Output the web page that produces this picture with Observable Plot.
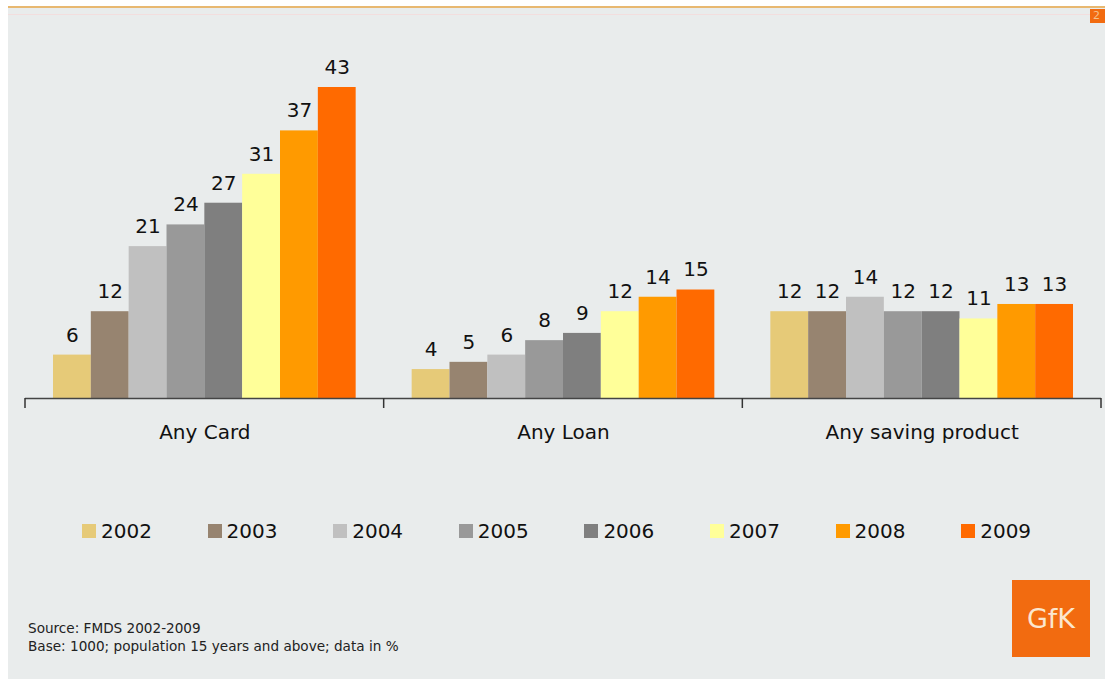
<!DOCTYPE html>
<html>
<head>
<meta charset="utf-8">
<script src="https://cdn.jsdelivr.net/npm/d3@7"></script>
<script src="https://cdn.jsdelivr.net/npm/@observablehq/plot@0.6"></script>
<style>
  html, body { margin: 0; padding: 0; background: #ffffff; }
  body { width: 1105px; height: 679px; position: relative; overflow: hidden; font-family: "DejaVu Sans", Verdana, sans-serif; }
  #panel { position: absolute; left: 8px; top: 8px; width: 1097px; height: 671px; background: #e9ecec; }
  #topline { position: absolute; left: 8px; top: 6px; width: 1097px; height: 2px; background: #e8b870; }
  #pinkline { position: absolute; left: 8px; top: 14px; width: 1097px; height: 1px; background: #f3dede; }
  #pagebox { position: absolute; left: 1090px; top: 9px; width: 15px; height: 14px; background: #f26b10; color: #f5c08a; font-size: 11px; line-height: 14px; padding-left: 3px; box-sizing: border-box; }
  #chart { position: absolute; left: 0; top: 0; }
  #legend { position: absolute; left: 0; top: 517px; width: 1105px; height: 28px; }
  .item { position: absolute; top: 0; height: 28px; display: flex; align-items: center; font-size: 20px; color: #111; }
  .sw { width: 14px; height: 14px; margin-right: 5px; }
  #source { position: absolute; left: 28px; top: 619px; font-size: 13.6px; line-height: 18px; color: #222; }
  #logo { position: absolute; left: 1012px; top: 580px; width: 78px; height: 77px; background: #f26b10; color: #fbe6cf; font-size: 27px; display: flex; align-items: center; justify-content: center; letter-spacing: 0px; }
</style>
</head>
<body>
<div id="panel"></div>
<div id="topline"></div>
<div id="pinkline"></div>
<div id="pagebox">2</div>
<div id="chart"></div>
<div id="legend"></div>
<div id="source">Source: FMDS 2002-2009<br>Base: 1000; population 15 years and above; data in %</div>
<div id="logo">GfK</div>
<script>
const categories = ["Any Card", "Any Loan", "Any saving product"];
const years = ["2002", "2003", "2004", "2005", "2006", "2007", "2008", "2009"];
const colors = ["#e6ca78", "#978470", "#c0c0c0", "#999999", "#7f7f7f", "#ffff99", "#ff9a00", "#ff6a00"];
const anyCard = [6, 12, 21, 24, 27, 31, 37, 43];
const anyLoan = [4, 5, 6, 8, 9, 12, 14, 15];
const anySaving = [12, 12, 14, 12, 12, 11, 13, 13];

const series = [anyCard, anyLoan, anySaving];
const data = [];
categories.forEach((c, i) => years.forEach((y, j) => data.push({category: c, year: y, value: series[i][j]})));

const chart = Plot.plot({
  width: 1105,
  height: 448,
  marginTop: 87,
  marginBottom: 50,
  marginLeft: 25,
  marginRight: 4,
  style: {background: "transparent", fontFamily: "DejaVu Sans, Verdana, sans-serif"},
  fx: {domain: categories, padding: 0, round: false, label: null},
  x: {domain: years, paddingInner: 0, paddingOuter: 0.74, round: false, axis: null},
  y: {domain: [0, 43], axis: null},
  color: {domain: years, range: colors},
  marks: [
    Plot.barY(data, {fx: "category", x: "year", y: "value", fill: "year"}),
    Plot.text(data, {fx: "category", x: "year", y: "value", text: d => String(d.value), dy: -20, fontSize: 20, fill: "#111"}),
    Plot.ruleY([0], {stroke: "#444", strokeWidth: 1.5}),
    Plot.axisFx({anchor: "bottom", tickSize: 0, tickPadding: 26, fontSize: 20, fill: "#111", label: null})
  ]
});
document.getElementById("chart").appendChild(chart);

// group separator ticks at facet edges, positioned by the fx scale
const fx = chart.scale("fx");
const bw = fx.bandwidth != null ? fx.bandwidth : (fx.range[1] - fx.range[0]) / categories.length;
const edges = categories.map(c => fx.apply(c)).concat([fx.apply(categories[categories.length - 1]) + bw]);
const yBase = chart.scale("y").apply(0);
d3.select(chart).append("g")
  .selectAll("line").data(edges).join("line")
  .attr("x1", d => d).attr("x2", d => d)
  .attr("y1", yBase).attr("y2", yBase + 10)
  .attr("stroke", "#333").attr("stroke-width", 1.5);

// legend
const legend = d3.select("#legend");
years.forEach((y, i) => {
  const item = legend.append("div").attr("class", "item").style("left", (82 + i * 125.6) + "px");
  item.append("div").attr("class", "sw").style("background", colors[i]);
  item.append("span").text(y);
});
</script>
</body>
</html>
